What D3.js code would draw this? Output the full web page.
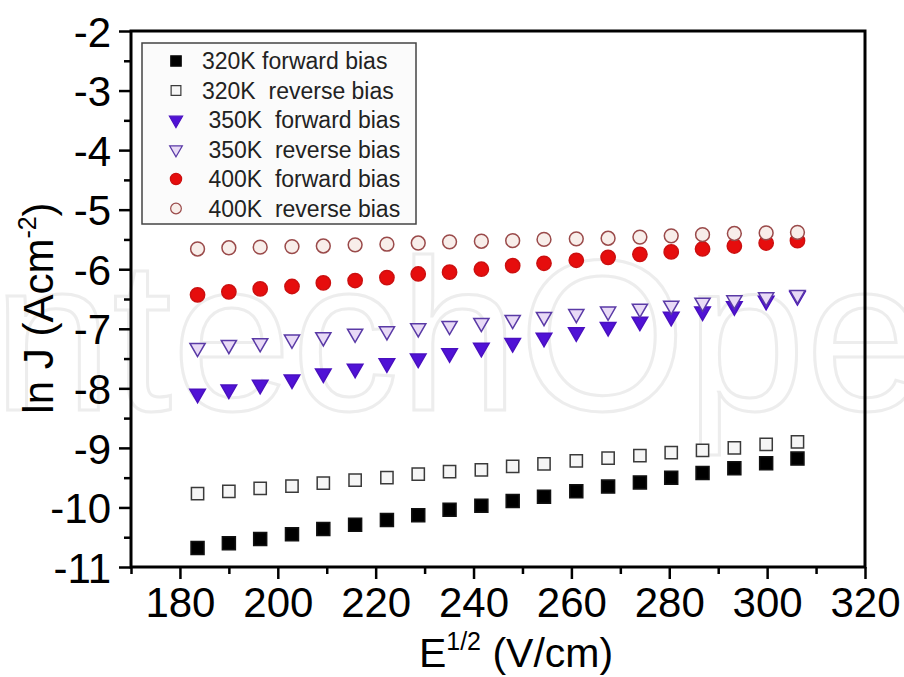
<!DOCTYPE html>
<html>
<head>
<meta charset="utf-8">
<script src="https://cdn.jsdelivr.net/npm/d3@7"></script>
<style>
  body { margin: 0; background: #fff; }
  svg { display: block; font-family: "Liberation Sans", Arial, sans-serif; }
  .legend text { white-space: pre; }
</style>
</head>
<body>
<svg id="chart" width="904" height="677"></svg>
<script>
// sqrt(E) values, same for all series
var fieldRoot = [183.6, 190.0, 196.4, 202.9, 209.3, 215.8, 222.3, 228.7, 235.1, 241.6,
                 248.0, 254.4, 261.0, 267.5, 274.0, 280.4, 286.8, 293.3, 299.8, 306.2];

var j320Forward = [-10.68, -10.60, -10.53, -10.45, -10.36, -10.29, -10.21, -10.13, -10.04, -9.97,
                   -9.89, -9.82, -9.73, -9.65, -9.58, -9.50, -9.42, -9.34, -9.26, -9.18];
var j320Reverse = [-9.77, -9.73, -9.68, -9.64, -9.59, -9.54, -9.50, -9.44, -9.40, -9.37,
                   -9.31, -9.27, -9.22, -9.17, -9.13, -9.08, -9.04, -9.00, -8.94, -8.90];
var j350Forward = [-8.09, -8.02, -7.94, -7.85, -7.75, -7.67, -7.58, -7.50, -7.41, -7.32,
                   -7.24, -7.15, -7.06, -6.97, -6.88, -6.80, -6.71, -6.62, -6.53, -6.45];
var j350Reverse = [-7.32, -7.27, -7.24, -7.18, -7.14, -7.08, -7.04, -6.99, -6.95, -6.90,
                   -6.85, -6.80, -6.75, -6.71, -6.66, -6.61, -6.56, -6.52, -6.47, -6.43];
var j400Forward = [-6.43, -6.38, -6.33, -6.29, -6.23, -6.19, -6.14, -6.08, -6.05, -6.00,
                   -5.94, -5.90, -5.85, -5.80, -5.75, -5.71, -5.66, -5.61, -5.56, -5.52];
var j400Reverse = [-5.66, -5.64, -5.63, -5.62, -5.61, -5.59, -5.58, -5.56, -5.54, -5.53,
                   -5.52, -5.50, -5.49, -5.48, -5.46, -5.44, -5.42, -5.40, -5.39, -5.38];

var seriesLabels = ["320K forward bias", "320K  reverse bias", " 350K  forward bias",
                    " 350K  reverse bias", " 400K  forward bias", " 400K  reverse bias"];

var xTicks = [180, 200, 220, 240, 260, 280, 300, 320];
var xMinorTicks = [170, 190, 210, 230, 250, 270, 290, 310];
var yTicks = [-11, -10, -9, -8, -7, -6, -5, -4, -3, -2];
var yMinorTicks = [-10.5, -9.5, -8.5, -7.5, -6.5, -5.5, -4.5, -3.5, -2.5];

var svg = d3.select("#chart");
var plotLeft = 131, plotRight = 865, plotTop = 31, plotBottom = 567;

var x = d3.scaleLinear().domain([170, 320]).range([plotLeft, plotRight]);
var y = d3.scaleLinear().domain([-11, -2]).range([plotBottom, plotTop]);

// watermark
svg.append("text")
    .attr("x", -67).attr("y", 410)
    .attr("font-size", 215)
    .attr("fill", "none")
    .attr("stroke", "#ededed")
    .attr("stroke-width", 3)
    .text("IntechOpen");

// series styles (drawn in order, reverse over forward)
var styles = [
    {data: j320Forward, type: d3.symbolSquare, size: 169, fill: "#000", stroke: "#111", rot: 0, lsize: 110},
    {data: j320Reverse, type: d3.symbolSquare, size: 150, fill: "#f6f6f6", stroke: "#3a3a3a", rot: 0, lsize: 95},
    {data: j350Forward, type: d3.symbolTriangle, size: 105, fill: "#5012d6", stroke: "#4a10c0", rot: 180, lsize: 75},
    {data: j350Reverse, type: d3.symbolTriangle, size: 100, fill: "#e8daf6", stroke: "#5a3aa6", rot: 180, lsize: 70},
    {data: j400Forward, type: d3.symbolCircle, size: 160, fill: "#e60d0d", stroke: "#cc1010", rot: 0, lsize: 100},
    {data: j400Reverse, type: d3.symbolCircle, size: 150, fill: "#f8eeea", stroke: "#9a4a4a", rot: 0, lsize: 90}
];

styles.forEach(function(s){
    svg.append("g").selectAll("path")
        .data(s.data)
        .enter().append("path")
        .attr("d", d3.symbol().type(s.type).size(s.size))
        .attr("transform", function(d, i){
            return "translate(" + x(fieldRoot[i]) + "," + y(d) + ") rotate(" + s.rot + ")";
        })
        .attr("fill", s.fill)
        .attr("stroke", s.stroke)
        .attr("stroke-width", 1.5);
});

// axes
svg.append("g")
    .attr("transform", "translate(0," + plotBottom + ")")
    .call(d3.axisBottom(x).tickValues(xTicks).tickSize(12).tickPadding(8)
        .tickFormat(function(d){ return String(d); }));
svg.append("g")
    .attr("transform", "translate(0," + plotBottom + ")")
    .call(d3.axisBottom(x).tickValues(xMinorTicks).tickSize(7).tickFormat(""));

var yAxis = svg.append("g")
    .attr("transform", "translate(" + plotLeft + ",0)")
    .call(d3.axisLeft(y).tickValues(yTicks).tickSize(12).tickPadding(8)
        .tickFormat(function(d){ return String(d); }));
svg.append("g")
    .attr("transform", "translate(" + plotLeft + ",0)")
    .call(d3.axisLeft(y).tickValues(yMinorTicks).tickSize(7).tickFormat(""));

svg.selectAll(".domain").remove();
svg.selectAll(".tick line").attr("stroke", "#000").attr("stroke-width", 2.5);
svg.selectAll(".tick text").attr("font-size", 42).attr("fill", "#000")
    .attr("font-family", "Liberation Sans, Arial, sans-serif");
yAxis.selectAll(".tick text").attr("dy", "0.36em");

// frame
svg.append("rect")
    .attr("x", plotLeft).attr("y", plotTop)
    .attr("width", plotRight - plotLeft).attr("height", plotBottom - plotTop)
    .attr("fill", "none").attr("stroke", "#000").attr("stroke-width", 3);

// axis titles
var xt = svg.append("text")
    .attr("x", 516).attr("y", 667)
    .attr("text-anchor", "middle")
    .attr("font-size", 41);
xt.append("tspan").text("E");
xt.append("tspan").attr("font-size", 25).attr("dy", -17).text("1/2");
xt.append("tspan").attr("dy", 17).text(" (V/cm)");

var yt = svg.append("text")
    .attr("transform", "translate(53,308) rotate(-90)")
    .attr("text-anchor", "middle")
    .attr("font-size", 42);
yt.append("tspan").text("ln J (Acm");
yt.append("tspan").attr("font-size", 25).attr("dy", -17).text("-2");
yt.append("tspan").attr("dy", 17).text(")");

// legend
var legend = svg.append("g").attr("class", "legend");
legend.append("rect")
    .attr("x", 142).attr("y", 43).attr("width", 274).attr("height", 181)
    .attr("fill", "#fbfbfb").attr("stroke", "#444").attr("stroke-width", 1.5);

var rows = legend.selectAll("g.row")
    .data(styles)
    .enter().append("g")
    .attr("class", "row")
    .attr("transform", function(d, i){ return "translate(176," + (61 + i * 29.5) + ")"; });

rows.append("path")
    .attr("d", function(d){ return d3.symbol().type(d.type).size(d.lsize)(); })
    .attr("transform", function(d){ return "rotate(" + d.rot + ")"; })
    .attr("fill", function(d){ return d.fill; })
    .attr("stroke", function(d){ return d.stroke; })
    .attr("stroke-width", 1.2);

rows.append("text")
    .attr("x", 26)
    .attr("dy", "0.36em")
    .attr("font-size", 23)
    .attr("fill", "#222")
    .text(function(d, i){ return seriesLabels[i]; });
</script>
</body>
</html>
